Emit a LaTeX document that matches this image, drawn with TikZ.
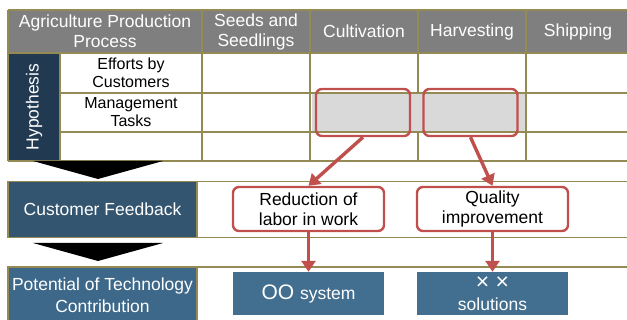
\documentclass[tikz,border=0pt]{standalone}
\usepackage{fontspec}
\setmainfont{Liberation Sans}
\usetikzlibrary{arrows.meta}

\definecolor{gridolive}{HTML}{948A54}
\definecolor{headgray}{HTML}{7F7F7F}
\definecolor{hypnavy}{HTML}{223A51}
\definecolor{fbnavy}{HTML}{34556F}
\definecolor{potblue}{HTML}{3D6889}
\definecolor{resblue}{HTML}{426F90}
\definecolor{markred}{HTML}{C0504D}
\definecolor{markgray}{HTML}{D9D9D9}

\tikzset{
  grid/.style={draw=gridolive, line width=1.6pt},
  headtxt/.style={text=white, align=center, font=\fontsize{17.5}{20}\selectfont},
  rowtxt/.style={align=center, font=\fontsize{16}{18}\selectfont},
  redbox/.style={draw=markred, line width=2.4pt, rounded corners=6pt, align=center,
    font=\fontsize{17.5}{20.5}\selectfont},
  bluebox/.style={fill=resblue, text=white, align=center,
    minimum width=151pt, minimum height=43pt, font=\fontsize{17.5}{20.5}\selectfont},
  redline/.style={draw=markred, line width=3.4pt},
  redarrow/.style={redline, -{Triangle[length=11pt,width=14pt]}}
}

\begin{document}
\begin{tikzpicture}[x=1pt,y=-1pt]
\useasboundingbox (0,0) rectangle (627,320);
\fill[white] (0,0) rectangle (627,320);

% table
\fill[headgray] (8,10) rectangle (640,53);
\fill[hypnavy] (8,53) rectangle (60,161);
\foreach \y in {10,53,161} \draw[grid] (8,\y) -- (640,\y);
\foreach \y in {93,132} \draw[grid] (60,\y) -- (640,\y);
\draw[grid] (8,10) -- (8,161);
\draw[grid] (60,53) -- (60,161);
\foreach \x in {202,310,418,526} \draw[grid] (\x,10) -- (\x,161);
\fill[markgray] (311.5,94) rectangle (524.5,131);

\node[headtxt] (hproc) at (105,31.5) {Agriculture Production\\Process};
\node[headtxt] (hseed) at (256,31.5) {Seeds and\\Seedlings};
\node[headtxt] (hcult) at (364,31.5) {Cultivation};
\node[headtxt] (hharv) at (472,31.5) {Harvesting};
\node[headtxt] (hship) at (578,31.5) {Shipping};

\node[headtxt, rotate=90] (hyp) at (34,107) {Hypothesis};
\node[rowtxt] (efforts) at (131,73) {Efforts by\\Customers};
\node[rowtxt] (mgmt) at (131,112.5) {Management\\Tasks};

\node[redbox, minimum width=94pt, minimum height=47pt] (cultbox) at (363,112.5) {};
\node[redbox, minimum width=94pt, minimum height=47pt] (harvbox) at (470.5,112.5) {};

% chevrons
\fill[black] (33,161) -- (163,161) -- (98,179) -- cycle;
\fill[black] (33,243) -- (163,243) -- (98,261) -- cycle;

% customer feedback row
\fill[fbnavy] (8,181.5) rectangle (197,237.5);
\draw[grid] (8,181.5) rectangle (640,237.5);
\draw[grid] (197,181.5) -- (197,237.5);
\node[headtxt] (feedback) at (102.5,209.5) {Customer Feedback};

\node[redbox, fill=white, minimum width=151pt, minimum height=44pt] (labor) at (308.5,209) {Reduction of\\labor in work};
\node[redbox, fill=white, minimum width=151pt, minimum height=44pt] (quality) at (492.5,209) {Quality\\improvement};

% technology row
\fill[potblue] (8,267) rectangle (197,330);
\draw[grid] (8,330) -- (8,267) -- (640,267);
\draw[grid] (197,267) -- (197,330);
\node[headtxt, font=\fontsize{17.5}{21.5}\selectfont] (potential) at (102.5,295) {Potential of Technology\\Contribution};

\node[bluebox] (oosys) at (308.5,293.5) {{\fontsize{21}{20.5}\selectfont OO}\hspace{1pt} system};
\node[bluebox] (xxsol) at (492.5,293.5) {{\fontsize{23}{20.5}\selectfont× ×}\\solutions};

% connectors
\draw[redarrow] (cultbox.south) -- (labor.north);
\draw[redarrow] (harvbox.south) -- (quality.north);
\draw[redarrow] (labor.south) -- (oosys.north);
\draw[redarrow] (quality.south) -- (xxsol.north);
\end{tikzpicture}
\end{document}
